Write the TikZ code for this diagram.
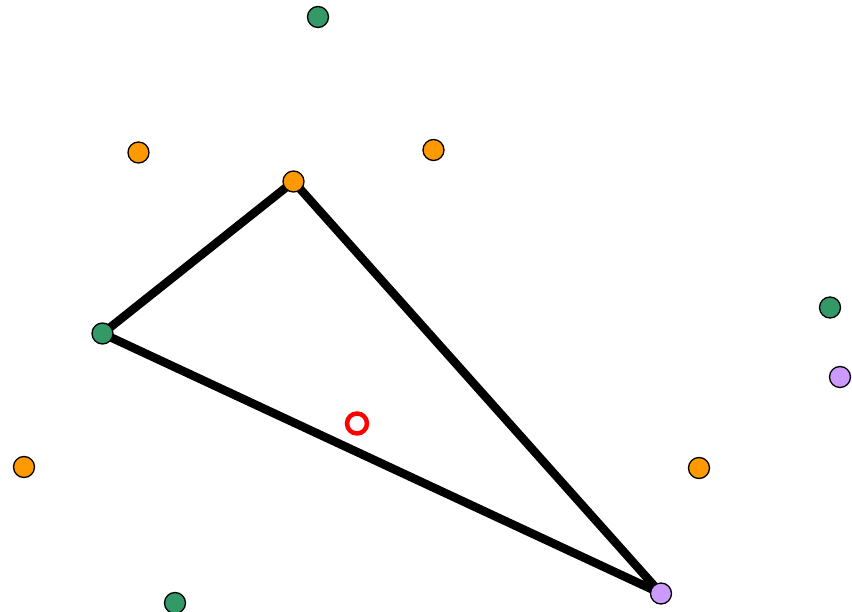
\documentclass[tikz,border=0pt]{standalone}
\usetikzlibrary{backgrounds}
\definecolor{dgreen}{HTML}{339966}
\definecolor{dorange}{HTML}{FF9900}
\definecolor{dpurple}{HTML}{CC99FF}
\tikzset{
  dot/.style={circle, draw=black, line width=1.3pt, minimum size=21pt, inner sep=0pt},
  gdot/.style={dot, fill=dgreen},
  odot/.style={dot, fill=dorange},
  pdot/.style={dot, fill=dpurple},
  edge/.style={line width=8.5pt, black, line join=round, line cap=round},
  ring/.style={circle, draw=red, line width=4.5pt, minimum size=20pt, inner sep=0pt}
}
\begin{document}
\begin{tikzpicture}[x=1pt, y=-1pt]
\useasboundingbox (0,0) rectangle (852,612);
\node[odot] (a) at (293.5,181.5) {};
\node[gdot] (b) at (102.5,333.5) {};
\node[pdot] (c) at (661,593.5) {};
\begin{pgfonlayer}{background}
\draw[edge] (a.center) -- (b.center) -- (c.center) -- cycle;
\end{pgfonlayer}
\node[gdot] (g1) at (318,17) {};
\node[odot] (o1) at (138.5,152.5) {};
\node[odot] (o2) at (433.5,150) {};
\node[gdot] (g2) at (830,307.5) {};
\node[pdot] (p2) at (840,377) {};
\node[ring] (r) at (357,423.5) {};
\node[odot] (o3) at (24,467) {};
\node[odot] (o4) at (699,468) {};
\node[gdot] (g3) at (175,603) {};
\end{tikzpicture}
\end{document}
